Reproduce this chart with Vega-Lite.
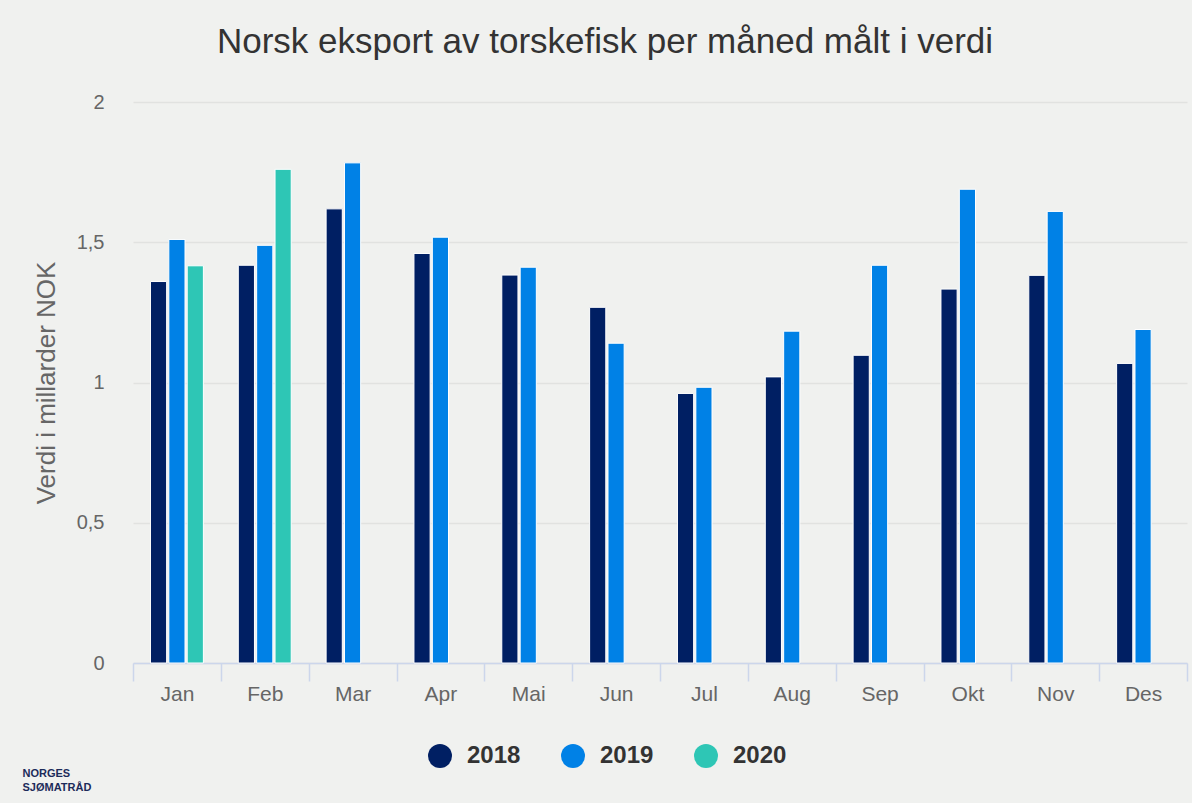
{
  "$schema": "https://vega.github.io/schema/vega-lite/v6.json",
  "width": 1054,
  "height": 561,
  "autosize": {"type": "none"},
  "padding": {"left": 133, "top": 102, "right": 5, "bottom": 140},
  "background": "#f0f1ef",
  "title": {
    "text": "Norsk eksport av torskefisk per måned målt i verdi",
    "font": "Liberation Sans",
    "fontSize": 35,
    "fontWeight": "normal",
    "color": "#333333",
    "anchor": "middle",
    "frame": "group",
    "dx": -55,
    "baseline": "alphabetic",
    "offset": 4
  },
  "data": {
    "values": [
      {"month": "Jan", "year": "2018", "value": 1.36},
      {"month": "Jan", "year": "2019", "value": 1.51},
      {"month": "Jan", "year": "2020", "value": 1.416},
      {"month": "Feb", "year": "2018", "value": 1.418},
      {"month": "Feb", "year": "2019", "value": 1.489},
      {"month": "Feb", "year": "2020", "value": 1.76},
      {"month": "Mar", "year": "2018", "value": 1.619},
      {"month": "Mar", "year": "2019", "value": 1.783},
      {"month": "Apr", "year": "2018", "value": 1.46},
      {"month": "Apr", "year": "2019", "value": 1.518},
      {"month": "Mai", "year": "2018", "value": 1.383},
      {"month": "Mai", "year": "2019", "value": 1.411},
      {"month": "Jun", "year": "2018", "value": 1.268},
      {"month": "Jun", "year": "2019", "value": 1.14},
      {"month": "Jul", "year": "2018", "value": 0.961},
      {"month": "Jul", "year": "2019", "value": 0.983},
      {"month": "Aug", "year": "2018", "value": 1.02},
      {"month": "Aug", "year": "2019", "value": 1.183},
      {"month": "Sep", "year": "2018", "value": 1.097},
      {"month": "Sep", "year": "2019", "value": 1.418},
      {"month": "Okt", "year": "2018", "value": 1.333},
      {"month": "Okt", "year": "2019", "value": 1.689},
      {"month": "Nov", "year": "2018", "value": 1.382},
      {"month": "Nov", "year": "2019", "value": 1.61},
      {"month": "Des", "year": "2018", "value": 1.068},
      {"month": "Des", "year": "2019", "value": 1.189}
    ]
  },
  "mark": {"type": "bar", "stroke": "#ffffff", "strokeWidth": 1},
  "encoding": {
    "x": {
      "field": "month",
      "type": "nominal",
      "sort": ["Jan", "Feb", "Mar", "Apr", "Mai", "Jun", "Jul", "Aug", "Sep", "Okt", "Nov", "Des"],
      "scale": {"paddingInner": 0, "paddingOuter": 0},
      "axis": {
        "labelAngle": 0,
        "labelFont": "Liberation Sans",
        "labelFontSize": 21,
        "labelColor": "#666666",
        "labelPadding": 2,
        "tickBand": "extent",
        "tickSize": 18,
        "tickColor": "#ccd6eb",
        "tickWidth": 1.5,
        "domainColor": "#ccd6eb",
        "domainWidth": 1.5,
        "grid": false,
        "title": ["NORGES", "SJØMATRÅD"],
        "titleFont": "Liberation Sans",
        "titleFontSize": 11,
        "titleFontWeight": "bold",
        "titleColor": "#1c2b5a",
        "titleAlign": "left",
        "titleAnchor": "start",
        "titleBaseline": "top",
        "titleLineHeight": 14,
        "titleX": -111,
        "titleY": 104
      }
    },
    "xOffset": {
      "field": "year",
      "type": "nominal",
      "scale": {"domain": ["2018", "2019", "2020"], "paddingInner": 0.12, "paddingOuter": 0.95}
    },
    "y": {
      "field": "value",
      "type": "quantitative",
      "scale": {"domain": [0, 2], "nice": false},
      "axis": {
        "values": [0, 0.5, 1, 1.5, 2],
        "labelExpr": "replace(toString(datum.value), '.', ',')",
        "labelFont": "Liberation Sans",
        "labelFontSize": 20,
        "labelColor": "#666666",
        "labelPadding": 29,
        "ticks": false,
        "domain": false,
        "gridColor": "#e1e2e0",
        "gridWidth": 1.5,
        "title": "Verdi i millarder NOK",
        "titleFont": "Liberation Sans",
        "titleFontSize": 26,
        "titleFontWeight": "normal",
        "titleColor": "#666666",
        "titlePadding": 17
      }
    },
    "color": {
      "field": "year",
      "type": "nominal",
      "scale": {"domain": ["2018", "2019", "2020"], "range": ["#001f63", "#0081e6", "#2ec6b5"]},
      "legend": {
        "title": null,
        "orient": "none",
        "direction": "horizontal",
        "legendX": 295,
        "legendY": 642,
        "symbolType": "circle",
        "symbolSize": 576,
        "symbolStrokeWidth": 0,
        "labelFont": "Liberation Sans",
        "labelFontSize": 24,
        "labelFontWeight": "bold",
        "labelColor": "#333333",
        "labelOffset": 15,
        "columnPadding": 40,
        "padding": 0
      }
    }
  },
  "config": {
    "view": {"stroke": null}
  }
}
